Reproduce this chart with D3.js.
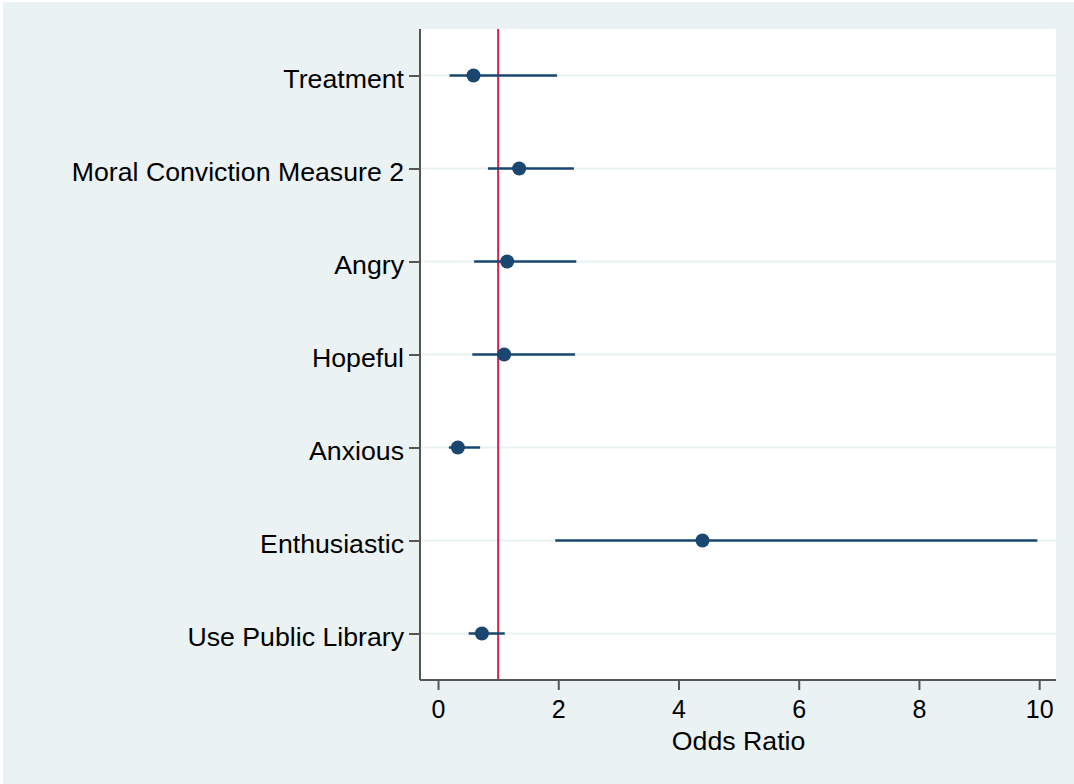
<!DOCTYPE html>
<html>
<head>
<meta charset="utf-8">
<script src="https://cdn.jsdelivr.net/npm/d3@7"></script>
<style>
  body { margin: 0; background: #ffffff; }
  text { font-family: "Liberation Sans", Arial, sans-serif; fill: #000; }
</style>
</head>
<body>
<div id="graph1"></div>
<script>
// variables, top to bottom
var labels = ["Treatment", "Moral Conviction Measure 2", "Angry", "Hopeful",
              "Anxious", "Enthusiastic", "Use Public Library"];
var oddsRatio = [0.59, 1.35, 1.15, 1.10, 0.33, 4.40, 0.73];
var ciLow     = [0.19, 0.83, 0.60, 0.57, 0.18, 1.95, 0.51];
var ciHigh    = [1.98, 2.26, 2.30, 2.28, 0.70, 9.97, 1.11];
var xTicks = [0, 2, 4, 6, 8, 10];

var data = labels.map(function (d, i) {
    return {label: d, or: oddsRatio[i], lo: ciLow[i], hi: ciHigh[i]};
});

var W = 1074, H = 784;
var margin = {top: 29, right: 18, bottom: 104, left: 420},
    width = W - margin.left - margin.right,
    height = H - margin.top - margin.bottom;

var svg = d3.select("#graph1").append("svg")
    .attr("width", W)
    .attr("height", H);

// outer background
svg.append("rect")
    .attr("x", 3).attr("y", 2)
    .attr("width", W - 3).attr("height", H - 2)
    .attr("fill", "#eaf2f3");

var g = svg.append("g")
    .attr("transform", "translate(" + margin.left + "," + margin.top + ")");

// set the ranges
var x = d3.scaleLinear().domain([-0.3, 10.28]).range([0, width]);
var y = d3.scalePoint().domain(labels).range([0, height]).padding(0.5);

// plot region
g.append("rect")
    .attr("width", width).attr("height", height)
    .attr("fill", "#ffffff");

// gridlines
g.selectAll(".grid")
    .data(labels)
    .enter().append("line")
    .attr("x1", 0).attr("x2", width)
    .attr("y1", function (d) { return y(d); })
    .attr("y2", function (d) { return y(d); })
    .attr("stroke", "#eaf2f3")
    .attr("stroke-width", 2);

// reference line at OR = 1
g.append("line")
    .attr("x1", x(1)).attr("x2", x(1))
    .attr("y1", 0).attr("y2", height)
    .attr("stroke", "#d6204f")
    .attr("stroke-width", 2);

// confidence intervals
g.selectAll(".ci")
    .data(data)
    .enter().append("line")
    .attr("x1", function (d) { return x(d.lo); })
    .attr("x2", function (d) { return x(d.hi); })
    .attr("y1", function (d) { return y(d.label); })
    .attr("y2", function (d) { return y(d.label); })
    .attr("stroke", "#1a476f")
    .attr("stroke-width", 2.5);

// point estimates
g.selectAll(".dot")
    .data(data)
    .enter().append("circle")
    .attr("r", 7)
    .attr("cx", function (d) { return x(d.or); })
    .attr("cy", function (d) { return y(d.label); })
    .attr("fill", "#1a476f");

// x axis
var xAxis = g.append("g")
    .attr("transform", "translate(0," + height + ")")
    .call(d3.axisBottom(x).tickValues(xTicks).tickSize(10).tickPadding(10));
xAxis.select(".domain").attr("stroke", "#555").attr("stroke-width", 2)
    .attr("d", "M0,0H" + width);
xAxis.selectAll(".tick line").attr("stroke", "#555").attr("stroke-width", 2);
xAxis.selectAll(".tick text").style("font-size", "25px");

// y axis
var yAxis = g.append("g")
    .call(d3.axisLeft(y).tickSize(11).tickPadding(5));
yAxis.select(".domain").attr("stroke", "#555").attr("stroke-width", 2)
    .attr("d", "M0,0V" + height);
yAxis.selectAll(".tick line").attr("stroke", "#555").attr("stroke-width", 2);
yAxis.selectAll(".tick text").style("font-size", "26.7px").attr("dy", "0.45em");

// axis title
g.append("text")
    .attr("x", (x(0) + x(10)) / 2)
    .attr("y", height + 70)
    .attr("text-anchor", "middle")
    .style("font-size", "26.7px")
    .text("Odds Ratio");
</script>
</body>
</html>
